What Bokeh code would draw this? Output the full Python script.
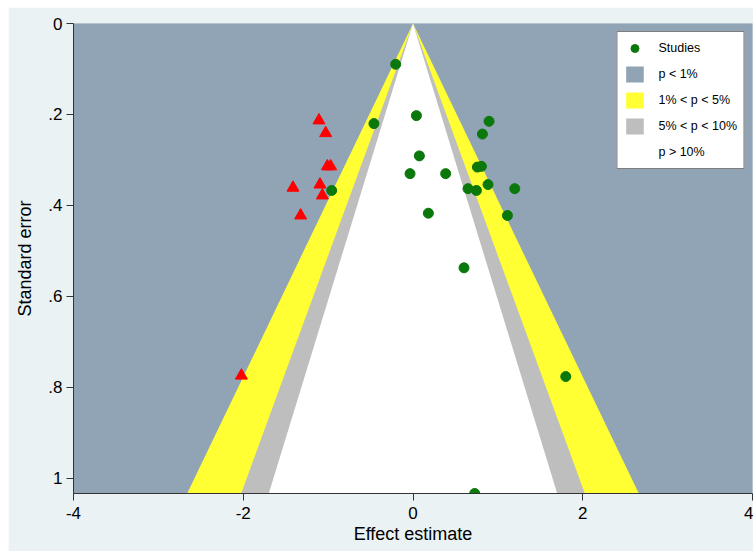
from bokeh.plotting import figure
from bokeh.models import Range1d, FixedTicker, Legend, LegendItem
from bokeh.embed import file_html
from bokeh.resources import INLINE

# Observed studies (green)
effect = [-0.204, -0.460, 0.040, 0.896, 0.818, 0.075, -0.035, 0.385, 0.759, 0.806,
          -0.958, 0.648, 0.747, 0.884, 1.199, 0.181, 1.113, 0.601, 1.800, 0.727]
se = [0.0896, 0.220, 0.2025, 0.215, 0.243, 0.291, 0.330, 0.330, 0.3156, 0.314,
      0.367, 0.363, 0.367, 0.354, 0.363, 0.417, 0.422, 0.537, 0.776, 1.033]

# Imputed (filled) studies (red triangles)
fill_effect = [-1.108, -1.029, -1.009, -0.970, -1.414, -1.096, -1.068, -1.324, -2.022]
fill_se = [0.213, 0.241, 0.314, 0.314, 0.361, 0.354, 0.378, 0.422, 0.774]

# Contour significance levels (two-sided z)
contour_labels = ["1% < p < 5%", "5% < p < 10%", "p > 10%"]
contour_z = [2.576, 1.960, 1.645]
contour_colors = ["#FFFF33", "#BEBEBE", "#FFFFFF"]
outer_label = "p < 1%"
outer_color = "#90A4B6"

x_ticks = [-4, -2, 0, 2, 4]
x_tick_labels = ["-4", "-2", "0", "2", "4"]
y_ticks = [0, 0.2, 0.4, 0.6, 0.8, 1.0]
y_tick_labels = ["0", ".2", ".4", ".6", ".8", "1"]

x_min, x_max = -4, 4
se_max = max(se + fill_se)

FONT = "Liberation Sans"

p = figure(width=745, height=544, margin=(7, 0, 0, 8),
           output_backend="svg", toolbar_location=None,
           x_range=Range1d(x_min, x_max), y_range=Range1d(se_max, 0),
           min_border_left=65, min_border_top=16, min_border_bottom=58, min_border_right=1,
           background_fill_color=outer_color, border_fill_color="#EAF2F3",
           outline_line_color=None)
p.xgrid.visible = False
p.ygrid.visible = False

outer_r = p.quad(left=x_min, right=x_max, top=0, bottom=se_max,
                 fill_color=outer_color, line_color=None)
contour_renderers = []
for z, c in zip(contour_z, contour_colors):
    r = p.patch(x=[0, -z * se_max, z * se_max], y=[0, se_max, se_max],
                fill_color=c, line_color=None)
    contour_renderers.append(r)

red = p.scatter(fill_effect, fill_se, marker="triangle", size=12,
                fill_color="#FF0000", line_color="#FF0000")
green = p.scatter(effect, se, marker="circle", size=10,
                  fill_color="#0A780A", line_color="#0A780A")

items = [LegendItem(label="Studies", renderers=[green]),
         LegendItem(label=outer_label, renderers=[outer_r])]
for lab, r in zip(contour_labels, contour_renderers):
    items.append(LegendItem(label=lab, renderers=[r]))
legend = Legend(items=items, location="top_right", margin=8, padding=6,
                spacing=6, glyph_width=22, glyph_height=20, label_standoff=13,
                label_text_font=FONT, label_text_font_size="12.5px",
                label_text_color="black",
                border_line_color="black", border_line_width=1,
                background_fill_color="white", background_fill_alpha=1)
p.add_layout(legend)

p.xaxis.ticker = FixedTicker(ticks=x_ticks)
p.yaxis.ticker = FixedTicker(ticks=y_ticks)
p.xaxis.major_label_overrides = {t: l for t, l in zip(x_ticks, x_tick_labels)}
p.yaxis.major_label_overrides = {t: l for t, l in zip(y_ticks, y_tick_labels)}
p.xaxis.axis_label = "Effect estimate"
p.yaxis.axis_label = "Standard error"

for ax in (p.xaxis, p.yaxis):
    ax.axis_line_color = "#333333"
    ax.major_tick_line_color = "#333333"
    ax.major_tick_out = 7
    ax.major_tick_in = 0
    ax.minor_tick_line_color = None
    ax.major_label_text_font = FONT
    ax.major_label_text_font_size = "17px"
    ax.major_label_text_color = "black"
    ax.axis_label_text_font = FONT
    ax.axis_label_text_font_size = "18px"
    ax.axis_label_text_font_style = "normal"
    ax.axis_label_text_color = "black"

p.yaxis.major_label_standoff = 4
p.yaxis.axis_label_standoff = 10
p.xaxis.major_label_standoff = 6
p.xaxis.axis_label_standoff = 2

open("out.html", "w").write(file_html(p, INLINE))
